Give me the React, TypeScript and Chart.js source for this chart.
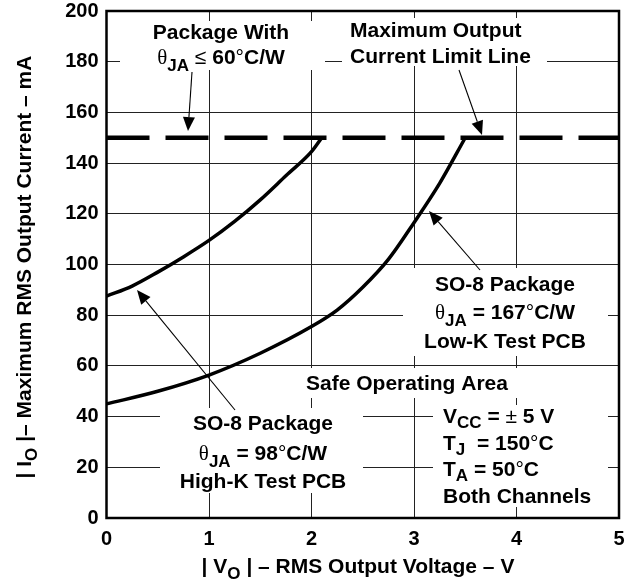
import React, { useEffect, useRef } from "react";
import { Chart, registerables } from "chart.js";

Chart.register(...registerables);

// RMS output voltage (V) vs. maximum RMS output current (mA)
const highKVoltage = [0, 0.25, 0.5, 0.75, 1.0, 1.25, 1.5, 1.75, 2.0, 2.1];
const highKCurrent = [87.5, 91.5, 97, 103, 109.5, 117, 125.5, 135, 144.5, 150];

const lowKVoltage = [0, 0.5, 1.0, 1.5, 2.0, 2.25, 2.5, 2.75, 3.0, 3.25, 3.5];
const lowKCurrent = [45, 50, 56.4, 65, 75.5, 82, 91, 102, 116.5, 132, 150];

const limitVoltage = [0, 5];
const limitCurrent = [150, 150];

const xTicks = [0, 1, 2, 3, 4, 5];
const yTicks = [0, 20, 40, 60, 80, 100, 120, 140, 160, 180, 200];

const toPoints = (xs: number[], ys: number[]) => xs.map((x, i) => ({ x, y: ys[i] }));

const FAMILY = '"Liberation Sans", Arial, Helvetica, sans-serif';
const B = `bold 21px ${FAMILY}`;
const SUB = `bold 17px ${FAMILY}`;
const N = `21px ${FAMILY}`;
const TH = `21px "Liberation Serif", "DejaVu Serif", serif`;

type Seg = { t: string; f: string; dy?: number };

function runWidth(ctx: CanvasRenderingContext2D, segs: Seg[]) {
  let w = 0;
  for (const s of segs) {
    ctx.font = s.f;
    w += ctx.measureText(s.t).width;
  }
  return w;
}

function drawRun(
  ctx: CanvasRenderingContext2D,
  segs: Seg[],
  x: number,
  y: number,
  align: "left" | "center"
) {
  const w = runWidth(ctx, segs);
  let cx = align === "center" ? x - w / 2 : x;
  ctx.textAlign = "left";
  ctx.textBaseline = "alphabetic";
  ctx.fillStyle = "#000";
  for (const s of segs) {
    ctx.font = s.f;
    ctx.fillText(s.t, cx, y + (s.dy || 0));
    cx += ctx.measureText(s.t).width;
  }
}

function arrow(ctx: CanvasRenderingContext2D, x1: number, y1: number, x2: number, y2: number) {
  const len = 14;
  const half = 6;
  const a = Math.atan2(y2 - y1, x2 - x1);
  const bx = x2 - len * Math.cos(a);
  const by = y2 - len * Math.sin(a);
  ctx.strokeStyle = "#000";
  ctx.lineWidth = 1.1;
  ctx.beginPath();
  ctx.moveTo(x1, y1);
  ctx.lineTo(bx, by);
  ctx.stroke();
  ctx.fillStyle = "#000";
  ctx.beginPath();
  ctx.moveTo(x2, y2);
  ctx.lineTo(bx + half * Math.sin(a), by - half * Math.cos(a));
  ctx.lineTo(bx - half * Math.sin(a), by + half * Math.cos(a));
  ctx.closePath();
  ctx.fill();
}

// white label backgrounds that interrupt the grid
const labelBoxes = [
  [120, 21, 325, 70],
  [342, 18, 547, 66],
  [403, 268, 608, 356],
  [300, 368, 520, 398],
  [160, 408, 363, 493],
  [433, 405, 608, 507],
];

const annotationPlugin = {
  id: "soaAnnotations",
  beforeDatasetsDraw(chart: any) {
    const ctx: CanvasRenderingContext2D = chart.ctx;
    ctx.save();
    ctx.fillStyle = "#fff";
    for (const [x1, y1, x2, y2] of labelBoxes) {
      ctx.fillRect(x1, y1, x2 - x1, y2 - y1);
    }
    ctx.restore();
  },
  afterDraw(chart: any) {
    const ctx: CanvasRenderingContext2D = chart.ctx;
    const { left, top, right, bottom } = chart.chartArea;
    ctx.save();

    // plot frame
    ctx.strokeStyle = "#000";
    ctx.lineWidth = 2.5;
    ctx.strokeRect(left, top, right - left, bottom - top);

    // package with low theta
    drawRun(ctx, [{ t: "Package With", f: B }], 221, 39, "center");
    drawRun(
      ctx,
      [
        { t: "θ", f: TH },
        { t: "JA", f: SUB, dy: 7 },
        { t: " ≤ ", f: N },
        { t: "60", f: B },
        { t: "°", f: N },
        { t: "C/W", f: B },
      ],
      221,
      64,
      "center"
    );

    // current limit
    drawRun(ctx, [{ t: "Maximum Output", f: B }], 350, 37, "left");
    drawRun(ctx, [{ t: "Current Limit Line", f: B }], 350, 63, "left");

    // low-K board
    drawRun(ctx, [{ t: "SO-8 Package", f: B }], 505, 291, "center");
    drawRun(
      ctx,
      [
        { t: "θ", f: TH },
        { t: "JA", f: SUB, dy: 7 },
        { t: " = 167", f: B },
        { t: "°", f: N },
        { t: "C/W", f: B },
      ],
      505,
      319,
      "center"
    );
    drawRun(ctx, [{ t: "Low-K Test PCB", f: B }], 505, 348, "center");

    drawRun(ctx, [{ t: "Safe Operating Area", f: B }], 407, 390, "center");

    // high-K board
    drawRun(ctx, [{ t: "SO-8 Package", f: B }], 263, 430, "center");
    drawRun(
      ctx,
      [
        { t: "θ", f: TH },
        { t: "JA", f: SUB, dy: 7 },
        { t: " = 98", f: B },
        { t: "°", f: N },
        { t: "C/W", f: B },
      ],
      263,
      460,
      "center"
    );
    drawRun(ctx, [{ t: "High-K Test PCB", f: B }], 263, 488, "center");

    // conditions
    drawRun(
      ctx,
      [
        { t: "V", f: B },
        { t: "CC", f: SUB, dy: 5 },
        { t: " = ", f: B },
        { t: "±", f: N },
        { t: " 5 V", f: B },
      ],
      443,
      423,
      "left"
    );
    drawRun(
      ctx,
      [
        { t: "T", f: B },
        { t: "J", f: SUB, dy: 5 },
        { t: "  = 150", f: B },
        { t: "°", f: N },
        { t: "C", f: B },
      ],
      443,
      450,
      "left"
    );
    drawRun(
      ctx,
      [
        { t: "T", f: B },
        { t: "A", f: SUB, dy: 5 },
        { t: " = 50", f: B },
        { t: "°", f: N },
        { t: "C", f: B },
      ],
      443,
      476,
      "left"
    );
    drawRun(ctx, [{ t: "Both Channels", f: B }], 443, 503, "left");

    // pointers
    arrow(ctx, 192, 72, 188, 131);
    arrow(ctx, 459, 70, 482, 135);
    arrow(ctx, 235, 410, 137, 290);
    arrow(ctx, 480, 270, 429, 211);

    // axis titles
    drawRun(
      ctx,
      [
        { t: "| V", f: B },
        { t: "O", f: SUB, dy: 6 },
        { t: " | – RMS Output Voltage – V", f: B },
      ],
      358,
      573,
      "center"
    );
    ctx.translate(31, 267);
    ctx.rotate(-Math.PI / 2);
    drawRun(
      ctx,
      [
        { t: "| I", f: B },
        { t: "O", f: SUB, dy: 6 },
        { t: " |– Maximum RMS Output Current – mA", f: B },
      ],
      0,
      0,
      "center"
    );
    ctx.restore();
  },
};

const noPadding = (scale: any) => {
  scale.paddingTop = 0;
  scale.paddingBottom = 0;
  scale.paddingLeft = 0;
  scale.paddingRight = 0;
};

export default function App() {
  const canvasRef = useRef<HTMLCanvasElement | null>(null);

  useEffect(() => {
    const canvas = canvasRef.current;
    if (!canvas) return;
    const tickFont = { family: FAMILY, size: 20, weight: "bold" as const };
    const chart = new Chart(canvas, {
      type: "line",
      data: {
        datasets: [
          {
            label: "High-K",
            data: toPoints(highKVoltage, highKCurrent),
            borderColor: "#000",
            borderWidth: 3.5,
            pointRadius: 0,
            fill: false,
            cubicInterpolationMode: "monotone",
          },
          {
            label: "Low-K",
            data: toPoints(lowKVoltage, lowKCurrent),
            borderColor: "#000",
            borderWidth: 3.5,
            pointRadius: 0,
            fill: false,
            cubicInterpolationMode: "monotone",
          },
          {
            label: "Limit",
            data: toPoints(limitVoltage, limitCurrent),
            borderColor: "#000",
            borderWidth: 4.5,
            borderDash: [43, 16],
            borderCapStyle: "butt",
            pointRadius: 0,
            fill: false,
          },
        ],
      },
      options: {
        animation: false,
        responsive: false,
        parsing: { xAxisKey: "x", yAxisKey: "y" },
        layout: { padding: { top: 11, right: 7, left: 0, bottom: 0 } },
        plugins: {
          legend: { display: false },
          tooltip: { enabled: false },
        },
        scales: {
          x: {
            type: "linear",
            min: 0,
            max: 5,
            afterBuildTicks: (scale: any) => {
              scale.ticks = xTicks.map((v) => ({ value: v }));
            },
            afterFit: (scale: any) => {
              scale.height = 64;
              noPadding(scale);
            },
            ticks: { color: "#000", font: tickFont, padding: 9, maxRotation: 0 },
            grid: { color: "#222", lineWidth: 1, drawTicks: false },
            border: { display: false },
          },
          y: {
            type: "linear",
            min: 0,
            max: 200,
            afterBuildTicks: (scale: any) => {
              scale.ticks = yTicks.map((v) => ({ value: v }));
            },
            afterFit: (scale: any) => {
              scale.width = 106.5;
              noPadding(scale);
            },
            ticks: { color: "#000", font: tickFont, padding: 8 },
            grid: { color: "#222", lineWidth: 1, drawTicks: false },
            border: { display: false },
          },
        },
      },
      plugins: [annotationPlugin],
    });
    return () => chart.destroy();
  }, []);

  return (
    <div
      style={{
        position: "fixed",
        left: 0,
        top: 0,
        width: 626,
        height: 582,
        background: "#fff",
      }}
    >
      <canvas ref={canvasRef} width={626} height={582} style={{ display: "block" }} />
    </div>
  );
}
